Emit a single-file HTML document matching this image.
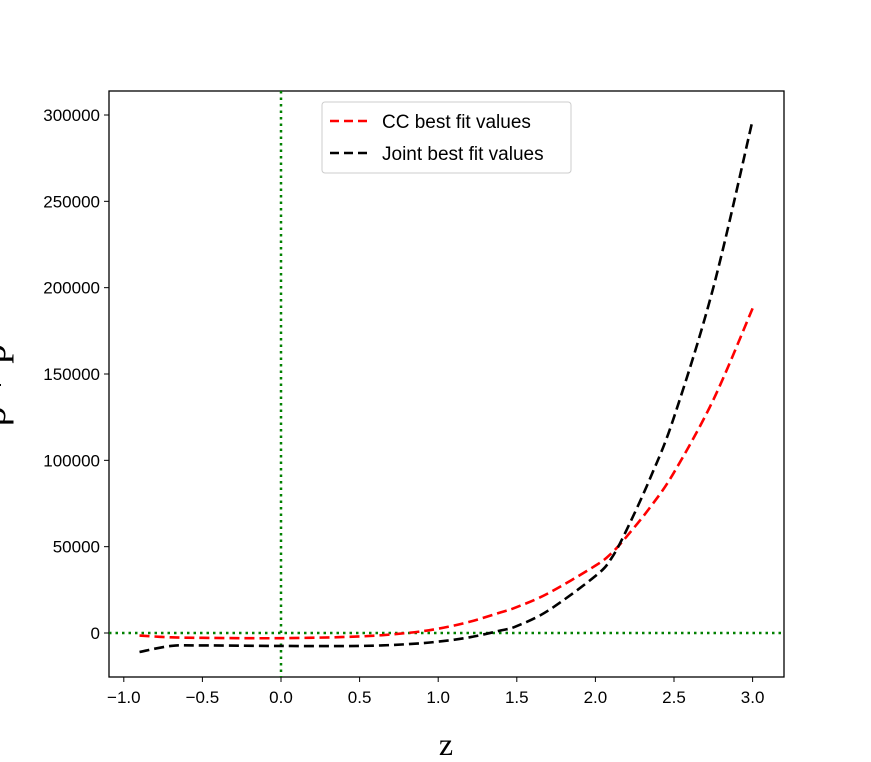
<!DOCTYPE html>
<html><head><meta charset="utf-8"><style>
body{margin:0;background:#fff}
svg{display:block;font-family:"Liberation Sans",sans-serif}
</style></head><body>
<svg id="chart" width="871" height="762">
<rect x="109" y="91" width="675" height="586" fill="none" stroke="#000" stroke-width="1.3"/>
<g id="ticks"></g>
<g id="series"></g>
<g>
<rect x="322" y="102" width="249" height="71" rx="3" fill="#fff" stroke="#ccc"/>
<line x1="330" y1="121" x2="368" y2="121" stroke="red" stroke-width="2.5" stroke-dasharray="9,5"/>
<text x="382" y="128" font-size="19">CC best fit values</text>
<line x1="330" y1="153" x2="368" y2="153" stroke="#000" stroke-width="2.5" stroke-dasharray="9,5"/>
<text x="382" y="160" font-size="19">Joint best fit values</text>
</g>
<text x="446" y="755" font-size="32" font-family="Liberation Serif,serif" text-anchor="middle">z</text>
<text transform="translate(5,385) rotate(-90)" font-size="40" font-family="Liberation Serif,serif" text-anchor="middle">ρ + p</text>
</svg>
<script>
const xTicks=[-1.0,-0.5,0.0,0.5,1.0,1.5,2.0,2.5,3.0];
const xTickLabels=["−1.0","−0.5","0.0","0.5","1.0","1.5","2.0","2.5","3.0"];
const yTicks=[0,50000,100000,150000,200000,250000,300000];
const zVals=[-0.9,-0.7,-0.5,0,0.5,0.8,1.0,1.2,1.4,1.5,1.7,2.0,2.1,2.2,2.35,2.5,2.75,3.0];
const ccVals=[-1500,-2500,-2800,-3000,-2000,0,2500,6500,12000,15000,23000,39000,46000,56000,73000,93000,135000,188000];
const jointVals=[-11000,-7500,-7200,-7500,-7500,-6500,-5000,-2500,1500,4000,13000,33000,43000,60000,90000,125000,200000,297000];
const sx=v=>281+v*157.2, sy=v=>633-v*(518/300000);
const NS="http://www.w3.org/2000/svg";
const tg=document.getElementById('ticks'), sg=document.getElementById('series');
function mk(t,a,p){const e=document.createElementNS(NS,t);for(const k in a)e.setAttribute(k,a[k]);p.appendChild(e);return e;}
xTicks.forEach((v,i)=>{
 const l=mk('line',{x1:sx(v),x2:sx(v),y1:677,y2:682,stroke:'#000'},tg);
 
 
 const t=mk('text',{x:sx(v),y:703,'font-size':17,'text-anchor':'middle'},tg);t.textContent=xTickLabels[i];
 
 
});
yTicks.forEach(v=>{
 const l=mk('line',{x1:104,x2:109,y1:sy(v),y2:sy(v),stroke:'#000'},tg);
 
 
 const t=mk('text',{x:100,y:sy(v)+6,'font-size':17,'text-anchor':'end'},tg);t.textContent=String(v);
 
 
});
const h=mk('line',{x1:109,x2:784,y1:sy(0),y2:sy(0),stroke:'green','stroke-width':2.5,'stroke-dasharray':'2.5,4'},sg);


const vl=mk('line',{x1:sx(0),x2:sx(0),y1:91,y2:677,stroke:'green','stroke-width':2.5,'stroke-dasharray':'2.5,4'},sg);


function path(vals){
 const p=zVals.map((z,i)=>[sx(z),sy(vals[i])]);
 let d='M'+p[0][0]+','+p[0][1];
 for(let i=0;i<p.length-1;i++){
  const a=p[Math.max(i-1,0)],b=p[i],c=p[i+1],e=p[Math.min(i+2,p.length-1)];
  d+=' C'+(b[0]+(c[0]-a[0])/6)+','+(b[1]+(c[1]-a[1])/6)+' '+(c[0]-(e[0]-b[0])/6)+','+(c[1]-(e[1]-b[1])/6)+' '+c[0]+','+c[1];
 }
 return d;
}
const r=mk('path',{d:path(ccVals),fill:'none',stroke:'red','stroke-width':2.6,'stroke-dasharray':'10,5'},sg);


const b=mk('path',{d:path(jointVals),fill:'none',stroke:'#000','stroke-width':2.6,'stroke-dasharray':'10,5'},sg);


</script>
</body></html>
